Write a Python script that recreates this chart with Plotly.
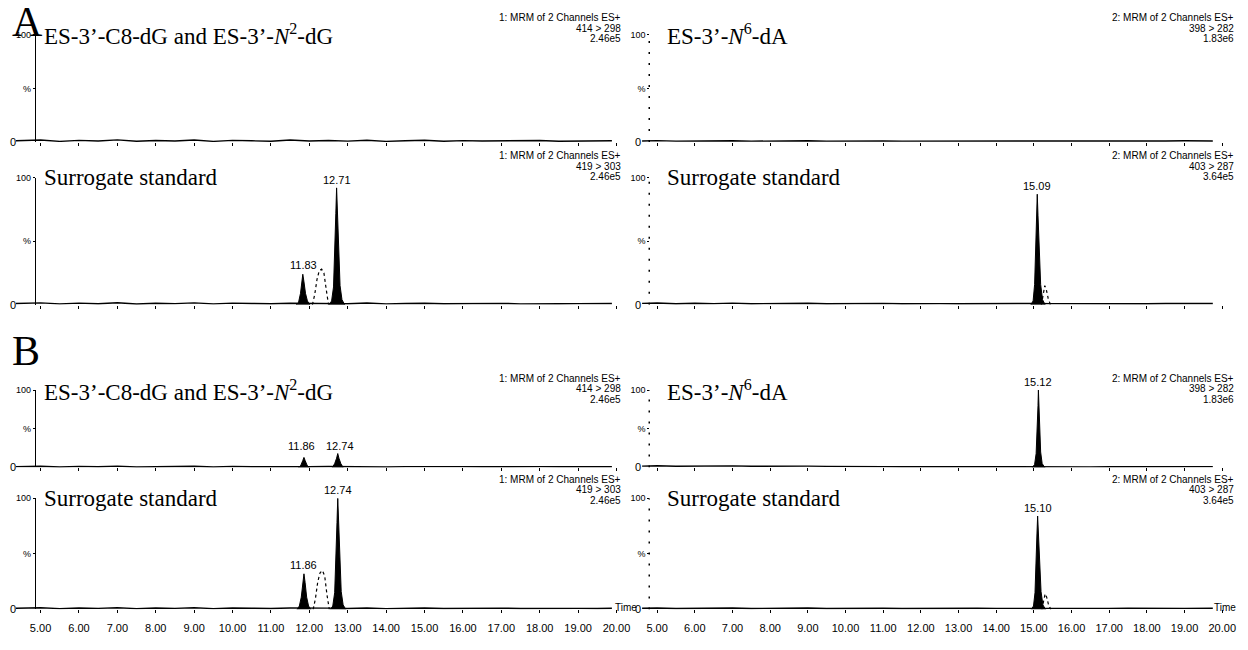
import plotly.graph_objects as go

W, H = 1248, 650

# ---------------- data ----------------
x_ticks = [5, 6, 7, 8, 9, 10, 11, 12, 13, 14, 15, 16, 17, 18, 19, 20]
x_tick_labels = ["5.00", "6.00", "7.00", "8.00", "9.00", "10.00", "11.00", "12.00",
                 "13.00", "14.00", "15.00", "16.00", "17.00", "18.00", "19.00", "20.00"]

# acquisition time points of the baseline (left: channel 1, right: channel 2)
baseline_t_left = [4.36, 5.0, 5.5, 6.0, 6.5, 7.0, 7.5, 8.0, 8.5, 9.0, 9.5, 10.0, 10.5, 11.0,
                   11.5, 12.0, 12.5, 13.0, 13.5, 14.0, 14.5, 15.0, 15.5, 16.0, 16.5, 17.0,
                   17.5, 18.0, 18.5, 19.0, 19.5, 19.88]
baseline_t_right = [4.60, 5.0, 5.5, 6.0, 6.5, 7.0, 7.5, 8.0, 8.5, 9.0, 9.5, 10.0, 10.5, 11.0,
                    11.5, 12.0, 12.5, 13.0, 13.5, 14.0, 14.5, 15.0, 15.5, 16.0, 16.5, 17.0,
                    17.5, 18.0, 18.5, 19.0, 19.75]

# A, left, top (414 > 298)
a_lt_noise = [1.2, 1.8, 0.6, 1.5, 0.9, 2.0, 0.7, 1.4, 1.0, 1.9, 0.6, 1.5, 1.1, 0.7, 1.8, 0.9,
              1.4, 0.8, 1.7, 0.6, 1.2, 1.6, 0.7, 1.3, 0.9, 1.1, 0.8, 1.4, 0.7, 1.0, 0.9, 1.1]
# A, left, bottom (419 > 303)
a_lb_noise = [1.0, 1.5, 0.7, 1.3, 0.8, 1.6, 0.6, 1.2, 0.9, 1.5, 0.7, 1.3, 1.0, 0.8, 1.2, 0.9,
              1.1, 0.8, 1.4, 0.7, 1.0, 1.2, 0.8, 1.0, 0.9, 1.1, 0.7, 1.0, 0.8, 0.9, 0.8, 1.0]
a_lb_peak_t = [[11.66, 11.72, 11.77, 11.80, 11.83, 11.86, 11.90, 11.95, 12.01],
               [12.52, 12.58, 12.63, 12.66, 12.69, 12.71, 12.73, 12.76, 12.80, 12.85, 12.92]]
a_lb_peak_y = [[0, 2, 9, 18, 24, 18, 9, 3, 0],
               [0, 3, 14, 36, 72, 92, 74, 40, 15, 4, 0]]
a_lb_dash_t = [12.08, 12.14, 12.20, 12.26, 12.32, 12.38, 12.44, 12.50]
a_lb_dash_y = [0, 8, 20, 27, 28, 25, 12, 0]
a_lb_labels = ["11.83", "12.71"]
a_lb_label_rt = [11.84, 12.71]
a_lb_label_h = [25, 92]

# A, right, top (398 > 282)
a_rt_noise = [1.0, 1.3, 0.8, 1.1, 0.9, 1.2, 0.8, 1.0, 0.9, 1.1, 0.8, 1.0, 0.9, 1.0, 0.8, 0.9,
              1.0, 0.8, 0.9, 1.0, 0.8, 0.9, 1.0, 0.9, 0.8, 1.0, 0.9, 1.0, 0.9, 1.1, 1.0]
# A, right, bottom (403 > 287)
a_rb_noise = [1.1, 1.4, 0.8, 1.2, 0.9, 1.3, 0.8, 1.1, 0.9, 1.2, 0.8, 1.0, 0.9, 1.1, 0.8, 1.0,
              0.9, 0.8, 1.0, 0.9, 0.8, 1.0, 0.9, 0.8, 1.1, 0.9, 1.0, 0.8, 1.0, 0.9, 1.0]
a_rb_peak_t = [[14.92, 14.98, 15.02, 15.05, 15.07, 15.09, 15.11, 15.14, 15.18, 15.23, 15.30]]
a_rb_peak_y = [[0, 3, 16, 40, 70, 87, 70, 40, 16, 4, 0]]
a_rb_dash_t = [15.20, 15.25, 15.29, 15.33, 15.38, 15.44]
a_rb_dash_y = [0, 8, 15, 12, 5, 0]
a_rb_labels = ["15.09"]
a_rb_label_rt = [15.09]
a_rb_label_h = [87]

# B, left, top (414 > 298)
b_lt_noise = [1.1, 1.6, 0.7, 1.4, 0.9, 1.7, 0.7, 1.3, 1.0, 1.6, 0.7, 1.4, 1.0, 0.8, 1.5, 1.0,
              1.2, 0.9, 1.4, 0.7, 1.1, 1.3, 0.8, 1.1, 0.9, 1.2, 0.8, 1.1, 0.9, 1.0, 0.9, 1.0]
b_lt_peak_t = [[11.72, 11.78, 11.83, 11.86, 11.89, 11.94, 12.00],
               [12.60, 12.66, 12.71, 12.74, 12.77, 12.82, 12.88]]
b_lt_peak_y = [[0, 3, 9, 13, 9, 3, 0],
               [0, 5, 12, 18, 12, 5, 0]]
b_lt_labels = ["11.86", "12.74"]
b_lt_label_rt = [11.80, 12.79]
b_lt_label_h = [18, 18]

# B, left, bottom (419 > 303)
b_lb_noise = [1.0, 1.4, 0.7, 1.2, 0.9, 1.5, 0.7, 1.2, 0.9, 1.4, 0.7, 1.2, 1.0, 0.8, 1.3, 0.9,
              1.1, 0.8, 1.3, 0.7, 1.0, 1.2, 0.8, 1.0, 0.9, 1.1, 0.8, 1.0, 0.8, 0.9, 0.8, 1.0]
b_lb_peak_t = [[11.68, 11.74, 11.79, 11.83, 11.86, 11.89, 11.93, 11.98, 12.04],
               [12.55, 12.61, 12.66, 12.69, 12.72, 12.74, 12.76, 12.79, 12.83, 12.88, 12.95]]
b_lb_peak_y = [[0, 3, 11, 23, 32, 24, 11, 3, 0],
               [0, 3, 15, 40, 78, 100, 80, 45, 16, 4, 0]]
b_lb_dash_t = [12.10, 12.16, 12.22, 12.28, 12.34, 12.40, 12.46, 12.52]
b_lb_dash_y = [0, 10, 25, 33, 35, 30, 13, 0]
b_lb_labels = ["11.86", "12.74"]
b_lb_label_rt = [11.86, 12.74]
b_lb_label_h = [33, 100]

# B, right, top (398 > 282)
b_rt_noise = [1.8, 2.2, 1.6, 2.0, 1.7, 2.1, 1.6, 1.9, 1.5, 1.8, 1.4, 1.6, 1.2, 1.1, 1.0, 0.9,
              1.0, 0.9, 1.1, 0.9, 1.0, 1.2, 0.9, 1.0, 0.8, 1.0, 0.9, 1.1, 0.9, 1.0, 1.1]
b_rt_peak_t = [[14.96, 15.02, 15.06, 15.09, 15.11, 15.12, 15.13, 15.15, 15.18, 15.22, 15.29]]
b_rt_peak_y = [[0, 4, 18, 45, 80, 100, 82, 50, 20, 5, 0]]
b_rt_labels = ["15.12"]
b_rt_label_rt = [15.12]
b_rt_label_h = [100]

# B, right, bottom (403 > 287)
b_rb_noise = [1.0, 1.3, 0.8, 1.1, 0.9, 1.2, 0.8, 1.0, 0.9, 1.2, 0.8, 1.0, 0.9, 1.0, 0.8, 1.0,
              0.9, 0.8, 1.0, 0.9, 0.8, 1.0, 0.9, 0.8, 1.0, 0.9, 1.0, 0.8, 1.0, 0.9, 1.0]
b_rb_peak_t = [[14.93, 14.99, 15.03, 15.06, 15.08, 15.10, 15.12, 15.15, 15.19, 15.24, 15.31]]
b_rb_peak_y = [[0, 3, 15, 38, 66, 84, 68, 40, 16, 4, 0]]
b_rb_dash_t = [15.21, 15.26, 15.30, 15.34, 15.39, 15.45]
b_rb_dash_y = [0, 7, 14, 11, 4, 0]
b_rb_labels = ["15.10"]
b_rb_label_rt = [15.10]
b_rb_label_h = [84]

titles = ["ES-3’-C8-dG and ES-3’-<i>N</i><sup>2</sup>-dG", "ES-3’-<i>N</i><sup>6</sup>-dA",
          "Surrogate standard", "Surrogate standard",
          "ES-3’-C8-dG and ES-3’-<i>N</i><sup>2</sup>-dG", "ES-3’-<i>N</i><sup>6</sup>-dA",
          "Surrogate standard", "Surrogate standard"]
mrm_channel = ["1: MRM of 2 Channels ES+", "2: MRM of 2 Channels ES+"] * 4
mrm_transition = ["414 > 298", "398 > 282", "419 > 303", "403 > 287",
                  "414 > 298", "398 > 282", "419 > 303", "403 > 287"]
mrm_scale = ["2.46e5", "1.83e6", "2.46e5", "3.64e5", "2.46e5", "1.83e6", "2.46e5", "3.64e5"]
panel_letters = ["A", "B"]

panels = [
    dict(noise=a_lt_noise, pt=[], py=[], dt=None, dy=None, lab=[], lrt=[], lh=[]),
    dict(noise=a_rt_noise, pt=[], py=[], dt=None, dy=None, lab=[], lrt=[], lh=[]),
    dict(noise=a_lb_noise, pt=a_lb_peak_t, py=a_lb_peak_y, dt=a_lb_dash_t, dy=a_lb_dash_y,
         lab=a_lb_labels, lrt=a_lb_label_rt, lh=a_lb_label_h),
    dict(noise=a_rb_noise, pt=a_rb_peak_t, py=a_rb_peak_y, dt=a_rb_dash_t, dy=a_rb_dash_y,
         lab=a_rb_labels, lrt=a_rb_label_rt, lh=a_rb_label_h),
    dict(noise=b_lt_noise, pt=b_lt_peak_t, py=b_lt_peak_y, dt=None, dy=None,
         lab=b_lt_labels, lrt=b_lt_label_rt, lh=b_lt_label_h),
    dict(noise=b_rt_noise, pt=b_rt_peak_t, py=b_rt_peak_y, dt=None, dy=None,
         lab=b_rt_labels, lrt=b_rt_label_rt, lh=b_rt_label_h),
    dict(noise=b_lb_noise, pt=b_lb_peak_t, py=b_lb_peak_y, dt=b_lb_dash_t, dy=b_lb_dash_y,
         lab=b_lb_labels, lrt=b_lb_label_rt, lh=b_lb_label_h),
    dict(noise=b_rb_noise, pt=b_rb_peak_t, py=b_rb_peak_y, dt=b_rb_dash_t, dy=b_rb_dash_y,
         lab=b_rb_labels, lrt=b_rb_label_rt, lh=b_rb_label_h),
]

# ---------------- layout geometry (pixels) ----------------
row_top = [22, 166, 380, 489]     # y pixel of the 100 % level
row_zero = [130, 294, 458, 601]   # y pixel of the 0 level
row_mrm = [5, 144, 368, 470]      # y pixel of first MRM text line
col_dom = [(8, 615.3), (640, 1228)]
col_range = [(4.358, 20.01), (4.580, 20.026)]
col_yaxis = [27, 648]
col_mrm_right = [621, 1241]
col_title = [34, 664]
col_zero_lab = [5, 637]
col_time = [(611, "left"), (1243, "right")]

SANS = "Liberation Sans, Arial, sans-serif"
SERIF = "Liberation Serif, Times New Roman, serif"


def px(x):
    return x / W


def py(y):
    return 1 - y / H


fig = go.Figure()
layout = dict(width=W, height=H, margin=dict(l=0, r=0, t=0, b=0),
              paper_bgcolor="white", plot_bgcolor="white", showlegend=False)
annotations = []
shapes = []

for k, p in enumerate(panels):
    row, col = k // 2, k % 2
    idx = k + 1
    xa = "x" if idx == 1 else f"x{idx}"
    ya = "y" if idx == 1 else f"y{idx}"
    xkey = "xaxis" if idx == 1 else f"xaxis{idx}"
    ykey = "yaxis" if idx == 1 else f"yaxis{idx}"
    bt = baseline_t_left if col == 0 else baseline_t_right

    # baseline (acts as the time axis line)
    fig.add_trace(go.Scatter(x=bt, y=p["noise"], mode="lines",
                             line=dict(color="black", width=1.4),
                             xaxis=xa, yaxis=ya, hoverinfo="skip"))
    # filled peaks
    for t, v in zip(p["pt"], p["py"]):
        fig.add_trace(go.Scatter(x=t, y=v, mode="lines", fill="toself",
                                 fillcolor="black", line=dict(color="black", width=1),
                                 xaxis=xa, yaxis=ya, hoverinfo="skip"))
    # dashed neighbouring trace
    if p["dt"] is not None:
        fig.add_trace(go.Scatter(x=p["dt"], y=p["dy"], mode="lines",
                                 line=dict(color="black", width=1.2, dash="3px,3px"),
                                 xaxis=xa, yaxis=ya, hoverinfo="skip"))
    # peak labels
    for lab, rt, h in zip(p["lab"], p["lrt"], p["lh"]):
        annotations.append(dict(x=rt, y=h, xref=xa, yref=ya, text=lab, showarrow=False,
                                xanchor="center", yanchor="bottom", yshift=0,
                                font=dict(family=SANS, size=11, color="black")))

    x0, x1 = col_dom[col]
    bottom = row == 3
    layout[xkey] = dict(domain=[px(x0), px(x1)], range=list(col_range[col]),
                        anchor=ya, showgrid=False, zeroline=False,
                        showline=False,
                        ticks="outside", ticklen=3, tickcolor="black", tickwidth=1,
                        tickvals=x_ticks, ticktext=x_tick_labels,
                        showticklabels=bottom, ticklabelstandoff=5,
                        tickfont=dict(family=SANS, size=11, color="black"))
    layout[ykey] = dict(domain=[py(row_zero[row]), py(row_top[row])], range=[0, 100],
                        anchor="free", position=px(col_yaxis[col]),
                        showgrid=False, zeroline=False,
                        showline=(col == 0), linecolor="black", linewidth=1,
                        ticks="outside", ticklen=2, tickcolor="black",
                        tickvals=[50, 100], ticktext=["%", "100"],
                        tickfont=dict(family=SANS, size=9, color="black"))
    if col == 1:
        shapes.append(dict(type="line", xref="paper", yref=ya,
                           x0=px(col_yaxis[col]), x1=px(col_yaxis[col]), y0=0, y1=100,
                           line=dict(color="black", width=1.5, dash="2px,9px")))

    # "0" label
    annotations.append(dict(x=px(col_zero_lab[col]), y=py(row_zero[row]), xref="paper",
                            yref="paper", text="0", showarrow=False, xanchor="center",
                            yanchor="middle", font=dict(family=SANS, size=11, color="black")))
    # title
    annotations.append(dict(x=px(col_title[col]), y=py(row_top[row]), xref="paper",
                            yref="paper", text=titles[k], showarrow=False, xanchor="left",
                            yanchor="middle", font=dict(family=SERIF, size=23, color="black")))
    # MRM description
    for j, txt in enumerate([mrm_channel[k], mrm_transition[k], mrm_scale[k]]):
        annotations.append(dict(x=px(col_mrm_right[col]), y=py(row_mrm[row] + 10.5 * j),
                                xref="paper", yref="paper", text=txt, showarrow=False,
                                xanchor="right", yanchor="middle",
                                font=dict(family=SANS, size=10, color="black")))
    if bottom:
        tx, anc = col_time[col]
        annotations.append(dict(x=px(tx), y=py(row_zero[row] - 2),
                                xref="paper", yref="paper", text="Time", showarrow=False,
                                xanchor=anc, yanchor="middle",
                                font=dict(family=SANS, size=10, color="black")))

# panel letters
for letter, ypix in zip(panel_letters, [9, 341]):
    annotations.append(dict(x=px(2), y=py(ypix), xref="paper", yref="paper", text=letter,
                            showarrow=False, xanchor="left", yanchor="middle",
                            font=dict(family=SERIF, size=42, color="black")))

layout["annotations"] = annotations
layout["shapes"] = shapes
fig.update_layout(**layout)
fig.write_html("out.html")
